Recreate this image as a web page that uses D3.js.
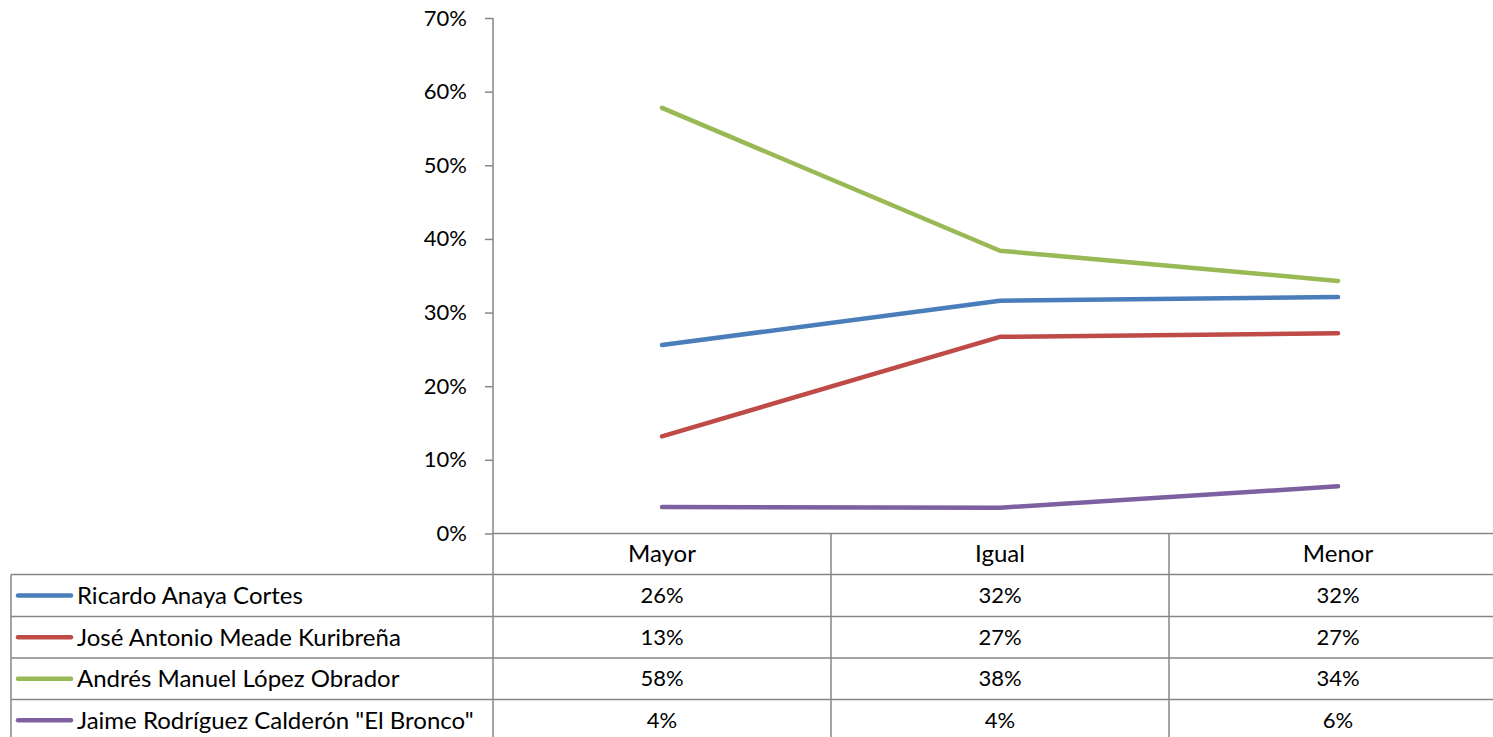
<!DOCTYPE html>
<html>
<head>
<meta charset="utf-8">
<script src="https://cdn.jsdelivr.net/npm/d3@7"></script>
<style>
  body { margin: 0; background: #fff; }
  svg { display: block; }
  text { font-family: Lato, "Open Sans", "Liberation Sans", sans-serif; fill: #000; }
</style>
</head>
<body>
<svg id="chart" width="1493" height="737"></svg>
<script>
const categories = ["Mayor", "Igual", "Menor"];
const seriesNames = [
  "Ricardo Anaya Cortes",
  "José Antonio Meade Kuribreña",
  "Andrés Manuel López Obrador",
  "Jaime Rodríguez Calderón \"El Bronco\""
];
const ricardo = [0.256, 0.316, 0.321];
const jose = [0.132, 0.267, 0.272];
const andres = [0.578, 0.384, 0.343];
const jaime = [0.036, 0.035, 0.064];
const seriesColors = ["#4a7ebb", "#be4b48", "#98b954", "#7d60a0"];
const yTicks = [0, 0.1, 0.2, 0.3, 0.4, 0.5, 0.6, 0.7];

(function () {
const seriesValues = [ricardo, jose, andres, jaime];
const series = seriesNames.map((name, i) => ({ name, values: seriesValues[i], color: seriesColors[i] }));

const svg = d3.select("#chart");
const grid = "#868686";
const fsNum = "22px";
const fsWord = "24px";

const pLeft = 493, pRight = 1507, pTop = 18, pBottom = 533.5;
const tableLeft = 11;
const rowBounds = [533.5, 574.5, 616.5, 658, 699.5, 741];

const x = d3.scaleBand().domain(categories).range([pLeft, pRight]).padding(0);
const y = d3.scaleLinear().domain([0, 0.7]).range([pBottom, pTop]);

const yAxis = d3.axisLeft(y).tickValues(yTicks).tickFormat(d3.format(".0%")).tickSize(8).tickPadding(18);
const ga = svg.append("g").attr("transform", `translate(${pLeft},0)`).call(yAxis);
ga.select(".domain").remove();
ga.selectAll(".tick line").attr("stroke", grid).attr("stroke-width", 1.5);
ga.selectAll(".tick text").style("font-size", fsNum).attr("font-family", null).attr("fill", "#000");

svg.append("line").attr("x1", pLeft).attr("x2", pLeft).attr("y1", pTop).attr("y2", 737)
  .attr("stroke", grid).attr("stroke-width", 1.5);

svg.append("line").attr("x1", pLeft).attr("x2", 1493).attr("y1", rowBounds[0]).attr("y2", rowBounds[0])
  .attr("stroke", grid).attr("stroke-width", 1.5);
for (let i = 1; i < rowBounds.length - 1; i++) {
  svg.append("line").attr("x1", tableLeft).attr("x2", 1493).attr("y1", rowBounds[i]).attr("y2", rowBounds[i])
    .attr("stroke", grid).attr("stroke-width", 1.5);
}
svg.append("line").attr("x1", tableLeft).attr("x2", tableLeft).attr("y1", rowBounds[1]).attr("y2", 737)
  .attr("stroke", grid).attr("stroke-width", 1.5);
categories.slice(1).forEach(c => {
  svg.append("line").attr("x1", x(c)).attr("x2", x(c)).attr("y1", rowBounds[0]).attr("y2", 737)
    .attr("stroke", grid).attr("stroke-width", 1.5);
});

categories.forEach(c => {
  svg.append("text").attr("x", x(c) + x.bandwidth() / 2).attr("y", (rowBounds[0] + rowBounds[1]) / 2)
    .attr("text-anchor", "middle").attr("dy", "0.35em").style("font-size", fsWord).text(c);
});

const pct = d3.format(".0%");
series.forEach((s, i) => {
  const cy = (rowBounds[i + 1] + rowBounds[i + 2]) / 2;
  svg.append("line").attr("x1", 18).attr("x2", 71).attr("y1", cy).attr("y2", cy)
    .attr("stroke", s.color).attr("stroke-width", 4.5).attr("stroke-linecap", "round");
  svg.append("text").attr("x", 77).attr("y", cy).attr("dy", "0.35em").style("font-size", fsWord).text(s.name);
  s.values.forEach((v, j) => {
    svg.append("text").attr("x", x(categories[j]) + x.bandwidth() / 2).attr("y", cy).attr("dy", "0.35em")
      .attr("text-anchor", "middle").style("font-size", fsNum).text(pct(v));
  });
});

const line = d3.line()
  .x((d, j) => x(categories[j]) + x.bandwidth() / 2)
  .y(d => y(d));
series.forEach(s => {
  svg.append("path").datum(s.values).attr("d", line).attr("fill", "none")
    .attr("stroke", s.color).attr("stroke-width", 4.5).attr("stroke-linecap", "round").attr("stroke-linejoin", "round");
});
})();
</script>
</body>
</html>
